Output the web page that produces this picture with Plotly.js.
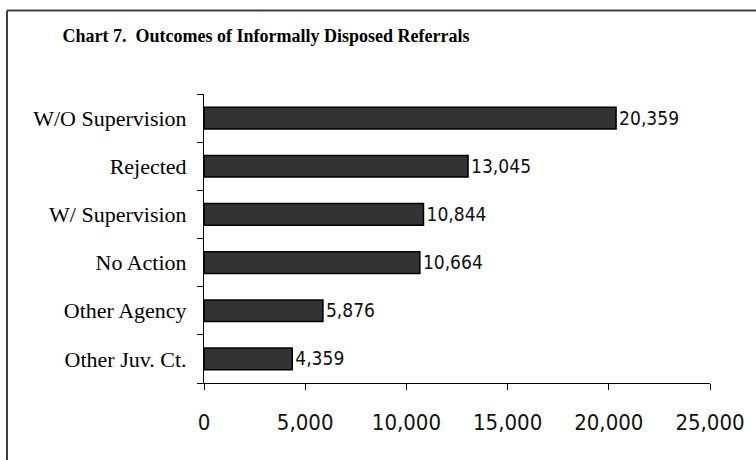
<!DOCTYPE html>
<html>
<head>
<meta charset="utf-8">
<script src="https://cdn.plot.ly/plotly-3.0.1.min.js"></script>
<style>html,body{margin:0;padding:0;background:#fff;}#chart{width:756px;height:460px;}</style>
</head>
<body>
<div id="chart"></div>
<script>
// Data (bottom to top order as drawn by Plotly)
const categories = ["Other Juv. Ct.", "Other Agency", "No Action", "W/ Supervision", "Rejected", "W/O Supervision"];
const values = [4359, 5876, 10664, 10844, 13045, 20359];
const valueLabels = ["4,359", "5,876", "10,664", "10,844", "13,045", "20,359"];
const xTickVals = [0, 5000, 10000, 15000, 20000, 25000];
const xTickText = ["0", "5,000", "10,000", "15,000", "20,000", "25,000"];
const chartTitle = "Chart 7.  Outcomes of Informally Disposed Referrals";

const numFont = "DejaVu Sans Condensed, Arial Narrow, sans-serif";
const serifFont = "Liberation Serif, Times New Roman, serif";

const trace = {
  type: "bar",
  orientation: "h",
  y: categories,
  x: values,
  text: valueLabels,
  textposition: "outside",
  cliponaxis: false,
  textfont: {family: numFont, size: 22, color: "#111"},
  marker: {color: "#333333", line: {color: "#000", width: 1.5}},
  hoverinfo: "none"
};

const layout = {
  width: 756, height: 460,
  margin: {l: 204, r: 46, t: 94, b: 77, pad: 0},
  paper_bgcolor: "#fff", plot_bgcolor: "#fff",
  showlegend: false,
  bargap: 0.55,
  title: {
    text: chartTitle,
    font: {family: serifFont, size: 18, color: "#000", weight: "bold"},
    xref: "container", yref: "container",
    x: 266/756, xanchor: "center",
    y: 1 - 36/460, yanchor: "middle"
  },
  xaxis: {
    range: [0, 25000],
    tickvals: xTickVals, ticktext: xTickText,
    showgrid: false, zeroline: false,
    showline: true, linecolor: "#000", linewidth: 1,
    ticks: "outside", ticklen: 6, tickcolor: "#000", tickwidth: 1,
    ticklabelstandoff: 14,
    tickfont: {family: numFont, size: 22, color: "#111"},
    fixedrange: true
  },
  yaxis: {
    type: "category",
    showgrid: false, zeroline: false,
    showline: true, linecolor: "#000", linewidth: 1,
    ticks: "outside", ticklen: 6, tickcolor: "#000", tickwidth: 1,
    tickson: "boundaries",
    ticklabelstandoff: 12,
    tickfont: {family: serifFont, size: 22, color: "#000"},
    fixedrange: true
  },
  shapes: [
    {type: "line", xref: "paper", yref: "paper", x0: -197/506, x1: 1.2, y0: (383-10.5)/289, y1: (383-10.5)/289, line: {color: "#404040", width: 2}},
    {type: "line", xref: "paper", yref: "paper", x0: -197/506, x1: -197/506, y0: (383-10.5)/289, y1: -0.4, line: {color: "#404040", width: 2}}
  ]
};

Plotly.newPlot("chart", [trace], layout, {displayModeBar: false, staticPlot: true});
</script>
</body>
</html>
